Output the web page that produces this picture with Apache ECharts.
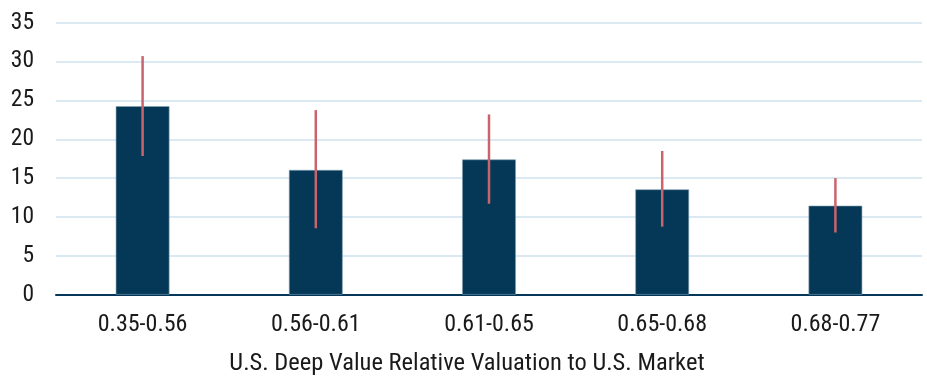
<!DOCTYPE html>
<html><head><meta charset="utf-8">
<script src="https://cdn.jsdelivr.net/npm/echarts@6/dist/echarts.min.js"></script>
<style>html,body{margin:0;padding:0;background:#fff}#c{width:927px;height:377px}</style>
</head><body><div id="c"></div>
<script>
const categories = ['0.35-0.56','0.56-0.61','0.61-0.65','0.65-0.68','0.68-0.77'];
const barValues = [24.25, 16.05, 17.4, 13.55, 11.45];
const errLow = [17.85, 8.55, 11.7, 8.75, 8.0];
const errHigh = [30.7, 23.75, 23.2, 18.5, 15.0];
const yTicks = {min: 0, max: 35, interval: 5};
const xAxisTitle = 'U.S. Deep Value Relative Valuation to U.S. Market';

const font = '"Roboto Condensed", "Liberation Sans Narrow", Roboto, sans-serif';
const chart = echarts.init(document.getElementById('c'));
chart.setOption({
  animation: false,
  grid: {left: 56, right: 5, top: 22.7, bottom: 82.3, containLabel: false, outerBoundsMode: 'none'},
  xAxis: {
    type: 'category', data: categories,
    axisLine: {lineStyle: {color: '#04375a', width: 2}},
    axisTick: {show: false},
    axisLabel: {color: '#1a1a1a', fontSize: 24, fontFamily: font, margin: 18},
    name: xAxisTitle, nameLocation: 'middle', nameGap: 57,
    nameTextStyle: {color: '#1a1a1a', fontSize: 24.5, fontFamily: font, padding: [0, 44, 0, 0]}
  },
  yAxis: {
    type: 'value', min: yTicks.min, max: yTicks.max, interval: yTicks.interval,
    axisLine: {show: false}, axisTick: {show: false},
    axisLabel: {color: '#1a1a1a', fontSize: 23.5, fontFamily: font, margin: 22},
    splitLine: {lineStyle: {color: '#cfe2ee', width: 1.5}}
  },
  series: [
    {type: 'bar', data: barValues, barWidth: '31%',
     itemStyle: {color: '#043856', borderColor: '#7f9fb3', borderWidth: 0.6}},
    {type: 'custom', z: 10,
     data: categories.map((c, i) => [i, errLow[i], errHigh[i]]),
     renderItem: function (params, api) {
       const lo = api.coord([api.value(0), api.value(1)]);
       const hi = api.coord([api.value(0), api.value(2)]);
       return {type: 'line', shape: {x1: lo[0], y1: lo[1], x2: hi[0], y2: hi[1]},
               style: {stroke: '#c9646c', lineWidth: 2.5}};
     }}
  ]
});
</script></body></html>
